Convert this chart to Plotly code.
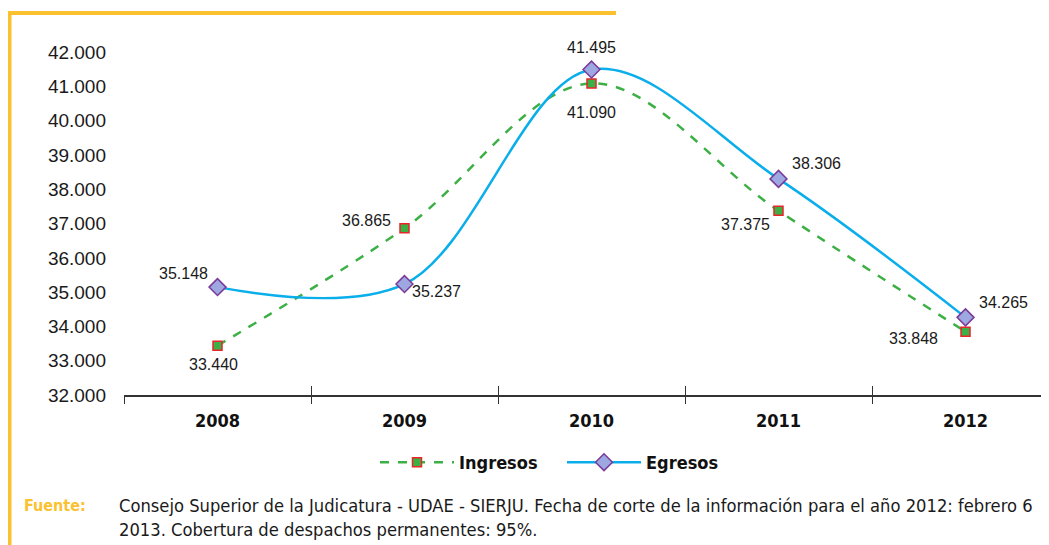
import plotly.graph_objects as go

years = ["2008", "2009", "2010", "2011", "2012"]
ingresos = [33440, 36865, 41090, 37375, 33848]
egresos = [35148, 35237, 41495, 38306, 34265]
y_ticks = list(range(32000, 43000, 1000))

# label offsets (px) relative to each point
ing_dx = [-4, -38, 0, -33, -52]
ing_dy = [-19, 8, -29, -14, -7]
egr_dx = [-34, 32, 0, 38, 38]
egr_dy = [14, -7, 22, 15, 15]

OFF = 8  # page body margin
W, H = 1049 - OFF, 545 - OFF
L, T = 124 - OFF, 18 - OFF
BOTTOM = 395 - OFF
B = H - BOTTOM
PW, PH = W - L, H - T - B
xr = [-0.5, -0.5 + PW / 187.0]


def px(x):
    return (x - OFF - L) / PW


def py(y):
    return (BOTTOM - (y - OFF)) / PH


COND = "DejaVu Sans Condensed, Roboto Condensed, Roboto"
YEL = "#FBC12F"

fig = go.Figure()
fig.add_trace(go.Scatter(
    x=years, y=ingresos, name="Ingresos", mode="lines+markers",
    line=dict(color="#3DB045", width=2.5, dash="dash", shape="spline", smoothing=1),
    marker=dict(symbol="square", size=9, color="#3DB045", line=dict(color="#E8262A", width=1.5)),
))
fig.add_trace(go.Scatter(
    x=years, y=egresos, name="Egresos", mode="lines+markers",
    line=dict(color="#0AAEEA", width=2.5, shape="spline", smoothing=1),
    marker=dict(symbol="diamond", size=13, color="#9DA8E0", line=dict(color="#7A3A9A", width=1.5)),
))
fig.add_trace(go.Scatter(x=years, y=[None] * 5, xaxis="x2", showlegend=False, hoverinfo="skip"))

annotations = []
for ys, dxs, dys in [(ingresos, ing_dx, ing_dy), (egresos, egr_dx, egr_dy)]:
    for i, (yv, dx, dy) in enumerate(zip(ys, dxs, dys)):
        annotations.append(dict(
            x=i, y=yv, xref="x", yref="y", text=f"{yv:,}".replace(",", "."), showarrow=False,
            xshift=dx, yshift=dy, xanchor="center", yanchor="middle",
            font=dict(family="Liberation Sans", size=16, color="#1a1a1a")))

annotations += [
    dict(xref="paper", yref="paper", x=px(88), y=py(505), xanchor="right", yanchor="middle",
         text="<b>Fuente:</b>", showarrow=False,
         font=dict(family=COND, size=16, color=YEL)),
    dict(xref="paper", yref="paper", x=px(117), y=py(493), xanchor="left", yanchor="top",
         align="left", showarrow=False,
         text="Consejo Superior de la Judicatura - UDAE - SIERJU. Fecha de corte de la información para el año 2012: febrero 6<br>2013. Cobertura de despachos permanentes: 95%.",
         font=dict(family=COND, size=18.2, color="#1a1a1a")),
]

fig.update_layout(
    width=W, height=H, separators=",.",
    margin=dict(l=L, r=0, t=T, b=B, autoexpand=False),
    paper_bgcolor="white", plot_bgcolor="white",
    font=dict(family="Liberation Sans", color="#1a1a1a"),
    xaxis=dict(type="category", range=xr, showgrid=False, showline=True, linecolor="#333",
               linewidth=1.5, ticks="outside", tickson="boundaries", ticklen=7, tickcolor="#333",
               tickwidth=1.2, tickfont=dict(family=COND, size=18, color="#111"),
               tickvals=years, ticktext=[f"<b>{y}</b>" for y in years],
               ticklabelstandoff=9, zeroline=False, automargin=False),
    xaxis2=dict(type="category", range=xr, overlaying="x", anchor="y", showgrid=False,
                ticks="inside", tickson="boundaries", ticklen=9, tickcolor="#333", tickwidth=1.2,
                showticklabels=False, showline=False, zeroline=False),
    yaxis=dict(range=[32000, 43000], tickvals=y_ticks, tickformat=",d", showgrid=False,
               showline=False, zeroline=False, ticks="", automargin=False,
               tickfont=dict(family="Liberation Sans", size=19, color="#1a1a1a"),
               ticklabelstandoff=17),
    legend=dict(orientation="h", x=px(562), y=py(444), xanchor="center", yanchor="top",
                font=dict(family=COND, size=18, color="#111", weight="bold"),
                itemwidth=74, entrywidth=98, bgcolor="rgba(0,0,0,0)"),
    shapes=[
        dict(type="line", xref="paper", yref="paper", x0=px(5), x1=px(616), y0=py(13), y1=py(13),
             line=dict(color=YEL, width=4)),
        dict(type="line", xref="paper", yref="paper", x0=px(9.5), x1=px(9.5), y0=py(560), y1=py(11),
             line=dict(color=YEL, width=4)),
    ],
    annotations=annotations,
)
fig.write_html("out.html")
